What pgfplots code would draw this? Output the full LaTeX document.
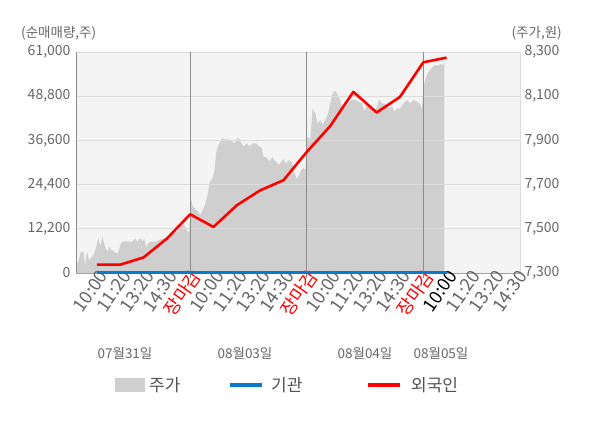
\documentclass[border=0pt]{standalone}
\usepackage{pgfplots}
\pgfplotsset{compat=1.18}
\usepackage{pgfplotstable}
\usepackage{fontspec}
\setmainfont{Noto Sans CJK KR}
\definecolor{bgc}{HTML}{F4F4F4}
\definecolor{gridc}{HTML}{DCDCDC}
\definecolor{vlinec}{HTML}{8C8C8C}
\definecolor{areac}{HTML}{CFCFCF}
\definecolor{labc}{HTML}{666666}
\definecolor{bluec}{HTML}{0A7ACC}
\definecolor{redc}{HTML}{FF0000}

\pgfplotstableread{
i p
0.094 7300
0.094 7336
0.193 7351
0.309 7396
0.421 7396
0.494 7329
0.567 7396
0.665 7356
0.738 7367
0.850 7381
0.953 7412
1.064 7457
1.137 7419
1.236 7464
1.339 7419
1.451 7396
1.524 7419
1.622 7404
1.708 7401
1.811 7389
1.910 7392
2.026 7434
2.094 7442
2.240 7442
2.382 7442
2.524 7442
2.627 7457
2.738 7442
2.854 7457
2.953 7442
3.026 7457
3.099 7419
3.197 7434
3.313 7442
3.528 7442
3.712 7452
3.884 7457
4.026 7462
4.172 7472
4.313 7476
4.455 7487
4.601 7510
4.712 7525
4.815 7502
4.884 7487
4.957 7487
5.043 7630
5.116 7600
5.185 7593
5.330 7577
5.429 7562
5.545 7585
5.657 7615
5.760 7661
5.828 7713
5.944 7724
6.043 7766
6.116 7842
6.189 7872
6.288 7894
6.373 7910
6.472 7905
6.618 7905
6.760 7899
6.901 7887
7.047 7914
7.159 7894
7.288 7872
7.433 7887
7.545 7872
7.691 7887
7.833 7887
7.948 7872
8.047 7872
8.146 7826
8.262 7824
8.403 7804
8.519 7824
8.661 7804
8.807 7789
8.906 7804
9.004 7814
9.120 7796
9.236 7811
9.378 7799
9.476 7751
9.579 7724
9.665 7743
9.764 7766
9.863 7774
9.948 7766
10.034 7917
10.150 7902
10.249 8041
10.365 8023
10.464 7977
10.579 7992
10.678 7970
10.794 7992
10.893 8015
11.009 8068
11.107 8113
11.193 8125
11.296 8113
11.408 8091
11.511 8053
11.652 8045
11.794 8068
11.940 8083
12.082 8083
12.223 8075
12.369 8068
12.468 8030
12.584 8060
12.725 8045
12.841 8038
12.983 8045
13.112 8086
13.227 8068
13.369 8065
13.511 8045
13.657 8053
13.768 8030
13.871 8045
14.013 8045
14.155 8068
14.300 8083
14.442 8068
14.584 8083
14.730 8075
14.841 8065
14.944 8045
15.013 8143
15.086 8173
15.185 8204
15.300 8219
15.416 8234
15.515 8241
15.614 8237
15.730 8246
15.845 8241
15.901 8256
15.901 7300
}\pricetable

\pgfplotstableread{
i v
1 2300
2 2300
3 4300
4 9500
5 16200
6 12700
7 18700
8 22800
9 25600
10 33400
11 40500
12 50000
13 44300
14 48600
15 58150
16 59450
}\foreigntable

\pgfplotstableread{
i v
1 0
16 0
}\insttable

\newcommand{\tickfont}{\fontsize{14bp}{16bp}\selectfont}
\newcommand{\xtickfont}{\fontsize{18bp}{20bp}\selectfont}

\begin{document}
\begin{tikzpicture}
\useasboundingbox (0,0) rectangle (600bp,428bp);
% price axis (right)
\begin{axis}[
  scale only axis, width=444bp, height=221bp,
  at={(76bp,155bp)}, anchor=south west,
  xmin=0.1, xmax=19.15, ymin=7300, ymax=8300,
  axis x line=none,
  axis y line*=right,
  y axis line style={draw=gridc, line width=0.8bp},
  ytick={7300,7500,7700,7900,8100,8300},
  ytick style={draw=none},
  yticklabel style={font=\tickfont, text=labc, xshift=1bp},
  /pgf/number format/assume math mode=true,
  /pgf/number format/.cd, 1000 sep={,},
  /pgfplots/.cd,
  scaled y ticks=false,
  axis background/.style={fill=bgc},
]
\addplot[fill=areac, draw=none] table[x=i,y=p] {\pricetable} -- cycle;
\end{axis}
% volume axis (left)
\begin{axis}[
  scale only axis, width=444bp, height=221bp,
  at={(76bp,155bp)}, anchor=south west,
  xmin=0.1, xmax=19.15, ymin=0, ymax=61000,
  axis x line*=bottom,
  axis y line*=left,
  x axis line style={draw=vlinec!80, line width=0.8bp, -},
  y axis line style={draw=vlinec, line width=0.8bp, -},
  clip=false,
  ytick={0,12200,24400,36600,48800,61000},
  ytick style={draw=none},
  ymajorgrids=true,
  grid style={draw=gridc, line width=0.8bp},
  yticklabel style={font=\tickfont, text=labc, xshift=-2bp},
  xtick={1,...,19},
  xticklabels={10:00,11:20,13:20,14:30,{\color{redc}장마감},10:00,11:20,13:20,14:30,{\color{redc}장마감},10:00,11:20,13:20,14:30,{\color{redc}장마감},{\color{black}10:00},11:20,13:20,14:30},
  xtick style={draw=none},
  xticklabel style={font=\xtickfont, text=labc, rotate=55, anchor=east, inner sep=1bp, yshift=-5bp, xshift=5bp},
  extra x ticks={5,10,15},
  extra x tick labels={},
  extra x tick style={xmajorgrids=true, major grid style={draw=vlinec, line width=0.8bp}, tick align=outside, major tick length=5bp, xtick style={draw=vlinec, line width=0.8bp}},
  /pgf/number format/assume math mode=true,
  /pgf/number format/.cd, 1000 sep={,},
  /pgfplots/.cd,
  scaled y ticks=false,
]
\addplot[draw=bluec, line width=3bp] table[x=i,y=v] {\insttable};
\addplot[draw=redc, line width=2.6bp, line join=round] table[x=i,y=v] {\foreigntable};
\end{axis}
% axis titles
\node[anchor=west, text=labc, font=\fontsize{13.5bp}{15bp}\selectfont, inner sep=0] at (21bp,395bp) {(순매매량,주)};
\node[anchor=east, text=labc, font=\fontsize{13.5bp}{15bp}\selectfont, inner sep=0] at (562bp,395bp) {(주가,원)};
% date labels
\foreach \x/\t in {125/07월31일,245/08월03일,365/08월04일,441/08월05일}{
  \node[text=labc, font=\fontsize{13.5bp}{15bp}\selectfont, inner sep=0] at (\x bp,75bp) {\t};
}
% legend
\fill[areac] (115bp,36bp) rectangle (145bp,50bp);
\node[anchor=west, text=labc!80!black, font=\fontsize{17bp}{19bp}\selectfont, inner sep=0] at (149bp,43bp) {주가};
\draw[bluec, line width=3.5bp] (230bp,43bp) -- (262bp,43bp);
\node[anchor=west, text=labc!80!black, font=\fontsize{17bp}{19bp}\selectfont, inner sep=0] at (271bp,43bp) {기관};
\draw[redc, line width=3.5bp] (368bp,43bp) -- (400bp,43bp);
\node[anchor=west, text=labc!80!black, font=\fontsize{17bp}{19bp}\selectfont, inner sep=0] at (411bp,43bp) {외국인};
\end{tikzpicture}
\end{document}
